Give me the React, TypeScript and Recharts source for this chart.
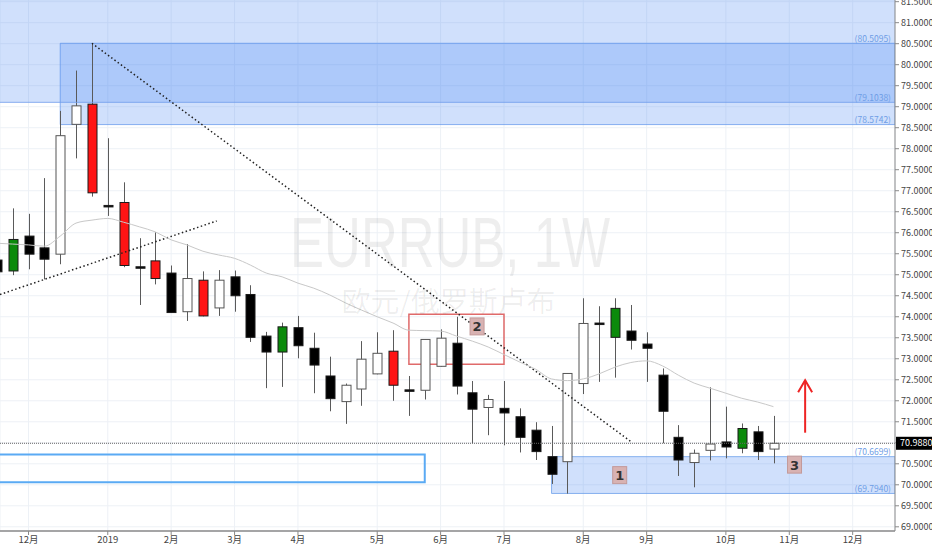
import React from "react";
import {
  ComposedChart,
  Bar,
  Line,
  XAxis,
  YAxis,
  CartesianGrid,
  ReferenceArea,
  ReferenceLine,
  ReferenceDot,
} from "recharts";

// week index, 0 = week of 3 Dec 2018
const weeks = [
  -2, -1, 0, 1, 2, 3, 4, 5, 6, 7, 8, 9, 10, 11, 12, 13, 14, 15, 16, 17, 18, 19, 20, 21, 22,
  23, 24, 25, 26, 27, 28, 29, 30, 31, 32, 33, 34, 35, 36, 37, 38, 39, 40, 41, 42, 43, 44, 45, 46, 47,
];
const opens = [
  75.35, 75.09, 75.92, 75.64, 75.49, 78.58, 79.06, 76.65, 76.72, 75.19, 75.33, 75.04, 74.12, 74.87,
  74.21, 74.95, 74.53, 73.54, 73.16, 73.74, 73.25, 72.59, 71.98, 72.28, 72.64, 73.18, 72.26, 72.25,
  72.82, 73.37, 72.19, 71.84, 71.82, 71.62, 71.3, 70.67, 70.55, 72.41, 73.85, 73.51, 73.66, 73.35,
  72.61, 71.13, 70.53, 70.82, 71.02, 70.87, 71.26, 70.85,
];
const highs = [
  75.5, 76.58, 76.45, 77.3, 78.9, 79.86, 80.51, 78.25, 77.2, 75.87, 76.01, 75.22, 75.73, 75.08,
  75.11, 75.1, 74.75, 73.64, 73.86, 74.02, 73.62, 73.05, 72.41, 73.42, 73.63, 73.68, 72.59, 73.46,
  73.7, 74.0, 72.47, 72.14, 72.47, 71.82, 71.49, 71.4, 72.65, 74.44, 74.25, 74.44, 74.28, 73.63,
  72.77, 71.42, 70.84, 72.32, 71.86, 71.46, 71.4, 71.64,
];
const lows = [
  74.95, 74.99, 75.13, 74.89, 75.25, 77.77, 76.86, 76.4, 75.18, 74.28, 74.77, 74.09, 73.9, 74.01,
  74.02, 74.12, 73.4, 72.3, 72.33, 73.01, 72.18, 71.75, 71.45, 71.88, 72.63, 72.0, 71.64, 72.03,
  72.81, 72.15, 70.99, 71.18, 70.94, 70.77, 70.59, 70.02, 69.79, 72.16, 72.45, 72.55, 73.22, 72.45,
  70.99, 70.21, 69.94, 70.58, 70.63, 70.75, 70.59, 70.51,
];
const closes = [
  75.07, 75.84, 75.49, 75.37, 78.31, 79.02, 76.95, 76.63, 75.22, 75.17, 74.91, 74.1, 74.91, 74.02,
  74.87, 74.5, 73.51, 73.16, 73.76, 73.31, 72.85, 72.05, 72.37, 72.99, 73.13, 72.37, 72.24, 73.46,
  73.49, 72.35, 71.8, 72.03, 71.71, 71.13, 70.79, 70.25, 72.65, 73.84, 73.83, 74.2, 73.44, 73.25,
  71.75, 70.59, 70.75, 70.97, 70.9, 71.34, 70.79, 70.988,
];
// 1 = candle painted green / red by the indicator
const accent = [
  0, 1, 0, 0, 0, 0, 1, 0, 1, 0, 1, 0, 0, 1, 0, 0, 0, 0, 1, 0, 0, 0, 0, 0, 0,
  1, 0, 0, 0, 0, 0, 0, 0, 0, 0, 0, 0, 0, 0, 1, 0, 0, 0, 0, 0, 0, 0, 1, 0, 0,
];
const movingAvg = [
  75.75, 75.73, 75.71, 75.68, 75.92, 76.23, 76.3, 76.34, 76.25, 76.14, 76.02, 75.83, 75.71, 75.56,
  75.47, 75.39, 75.23, 75.04, 74.95, 74.8, 74.68, 74.52, 74.33, 74.16, 74.0, 73.85, 73.68, 73.67,
  73.66, 73.54, 73.42, 73.28, 73.1, 72.92, 72.75, 72.52, 72.48, 72.52, 72.64, 72.8, 72.91, 72.95,
  72.83, 72.61, 72.42, 72.3, 72.18, 72.06, 71.97, 71.86,
];

const monthTicks = [0, 5, 9, 13, 17, 22, 26, 30, 35, 39, 44, 48, 52];
const monthLabels = ["12月", "2019", "2月", "3月", "4月", "5月", "6月", "7月", "8月", "9月", "10月", "11月", "12月"];
const priceTicks = [
  69, 69.5, 70, 70.5, 71, 71.5, 72, 72.5, 73, 73.5, 74, 74.5, 75, 75.5, 76, 76.5, 77, 77.5, 78,
  78.5, 79, 79.5, 80, 80.5, 81, 81.5,
];

const supplyTop = 80.5095;
const supplyMid = 79.1038;
const supplyLow = 78.5742;
const demandTop = 70.6699;
const demandLow = 69.794;
const lastPrice = 70.988;

const X_MIN = -1.8;
const X_MAX = 54.67;
const Y_MIN = 68.9;
const Y_MAX = 81.54;

const NARROW = "'Liberation Sans Narrow', 'Noto Sans CJK SC', sans-serif";

const candles = weeks.map((k, i) => ({
  k,
  open: opens[i],
  high: highs[i],
  low: lows[i],
  close: closes[i],
  range: [lows[i], highs[i]],
  ma: movingAvg[i],
  accent: accent[i],
}));

const Candle = (props: any) => {
  const { x, y, width, height, payload } = props;
  if (x == null || y == null || !payload) return null;
  const top = Math.min(y, y + height);
  const span = Math.abs(height);
  const { open, close, high, low } = payload;
  const toPx = (v: number) => top + ((high - v) / (high - low)) * span;
  const up = close >= open;
  const fill = payload.accent ? (up ? "#0b8a0b" : "#ff1414") : up ? "#ffffff" : "#000000";
  const cx = Math.round(x + width / 2) + 0.5;
  const bodyTop = toPx(Math.max(open, close));
  const bodyH = Math.max(toPx(Math.min(open, close)) - bodyTop, 1.5);
  return (
    <g>
      <line x1={cx} x2={cx} y1={top} y2={top + span} stroke="#5a5a5a" strokeWidth={1} />
      <rect
        x={cx - 4.5}
        y={bodyTop}
        width={9}
        height={bodyH}
        fill={fill}
        stroke={up && !payload.accent ? "#555" : "#1a1a1a"}
        strokeWidth={1}
      />
    </g>
  );
};

// the 71.0000 label sits under the last-price tag, so it is left blank
const PriceTick = (p: any) => {
  const v = Number(p.payload.value);
  if (Math.abs(v - lastPrice) < 0.2) return <g />;
  return (
    <text x={p.x} y={p.y} dy={3.2} textAnchor="start" fontSize={9} fontFamily={NARROW} fill="#444">
      {v.toFixed(4)}
    </text>
  );
};

const levelLabel = (text: string) => (p: any) => (
  <text
    x={p.cx - 4}
    y={p.cy - 1.5}
    textAnchor="end"
    fontSize={8.5}
    fontFamily={NARROW}
    fill="#6e9de6"
  >
    {text}
  </text>
);

const numberTag = (text: string) => (p: any) => (
  <g>
    <rect x={p.cx - 7} y={p.cy - 8.5} width={14} height={17} fill="#d8b2b2" stroke="#c39a9a" strokeWidth={1} />
    <text x={p.cx} y={p.cy + 5} textAnchor="middle" fontSize={13} fontWeight="bold" fontFamily="'DejaVu Sans', sans-serif" fill="#333">
      {text}
    </text>
  </g>
);

export default function App() {
  return (
    <div style={{ position: "absolute", left: 0, top: 0, width: 932, height: 550, background: "#fff", fontFamily: NARROW }}>
      <ComposedChart width={932} height={550} data={candles} margin={{ top: 0, right: 0, bottom: 0, left: 0 }}>
        <CartesianGrid stroke="#edf1f6" />
        <XAxis
          dataKey="k"
          type="number"
          domain={[X_MIN, X_MAX]}
          allowDataOverflow
          ticks={monthTicks}
          interval={0}
          tickFormatter={(v: number) => monthLabels[monthTicks.indexOf(v)] ?? ""}
          height={19}
          tickSize={4}
          tickMargin={1}
          axisLine={{ stroke: "#8a8a8a", strokeWidth: 1.5 }}
          tickLine={{ stroke: "#8a8a8a" }}
          tick={{ fill: "#444", fontSize: 9.5, fontFamily: NARROW }}
        />
        <YAxis
          orientation="right"
          type="number"
          domain={[Y_MIN, Y_MAX]}
          allowDataOverflow
          ticks={priceTicks}
          interval={0}
          width={37}
          tickSize={4}
          tickMargin={2}
          axisLine={{ stroke: "#8a8a8a" }}
          tickLine={{ stroke: "#8a8a8a" }}
          tick={PriceTick}
        />

        {/* watermark */}
        <ReferenceDot
          x={26.6}
          y={75.19}
          ifOverflow="visible"
          shape={(p: any) => (
            <text x={p.cx} y={p.cy} textAnchor="middle" fontSize={70} fontFamily="'Liberation Sans', sans-serif" fill="rgba(0,0,0,0.065)" textLength={320} lengthAdjust="spacingAndGlyphs">
              EURRUB, 1W
            </text>
          )}
        />
        <ReferenceDot
          x={26.5}
          y={74.12}
          ifOverflow="visible"
          shape={(p: any) => (
            <text x={p.cx} y={p.cy} textAnchor="middle" fontSize={28} fontFamily="'Noto Sans CJK SC', sans-serif" fill="rgba(0,0,0,0.065)" textLength={214} lengthAdjust="spacingAndGlyphs">
              欧元/俄罗斯卢布
            </text>
          )}
        />

        {/* zones */}
        <ReferenceArea x1={X_MIN} x2={X_MAX} y1={supplyMid} y2={Y_MAX} fill="rgb(66,133,244)" fillOpacity={0.25} stroke="none" ifOverflow="hidden" />
        <ReferenceArea x1={2} x2={X_MAX} y1={supplyLow} y2={supplyTop} fill="rgb(66,133,244)" fillOpacity={0.25} stroke="rgb(90,145,235)" strokeOpacity={0.7} ifOverflow="hidden" />
        <ReferenceLine y={supplyMid} stroke="rgb(110,155,235)" strokeOpacity={0.8} />
        <ReferenceArea x1={33} x2={X_MAX} y1={demandLow} y2={demandTop} fill="rgb(66,133,244)" fillOpacity={0.25} stroke="rgb(110,160,235)" strokeOpacity={0.8} ifOverflow="hidden" />
        <ReferenceArea x1={-3} x2={25} y1={70.06} y2={70.72} fill="none" stroke="#5aaaf4" strokeWidth={2} ifOverflow="hidden" />
        <ReferenceArea x1={24} x2={30} y1={72.87} y2={74.06} fill="none" stroke="#e06a6a" strokeWidth={1.5} ifOverflow="hidden" />

        {/* trend lines */}
        <ReferenceLine
          segment={[{ x: 4, y: 80.51 }, { x: 38, y: 71.03 }]}
          stroke="#222"
          strokeWidth={1.5}
          strokeDasharray="1.5 2.5"
          ifOverflow="visible"
        />
        <ReferenceLine
          segment={[{ x: X_MIN, y: 74.53 }, { x: 11.87, y: 76.28 }]}
          stroke="#222"
          strokeWidth={1.5}
          strokeDasharray="1.5 2.5"
          ifOverflow="visible"
        />
        <ReferenceLine y={lastPrice} stroke="#666" strokeDasharray="1 1" />

        <Line dataKey="ma" type="monotone" stroke="#c8c8c8" strokeWidth={1} dot={false} isAnimationActive={false} />
        <Bar dataKey="range" barSize={10} shape={Candle} isAnimationActive={false} />

        {/* annotations */}
        <ReferenceDot x={37.3} y={70.23} ifOverflow="visible" shape={numberTag("1")} />
        <ReferenceDot x={28.3} y={73.77} ifOverflow="visible" shape={numberTag("2")} />
        <ReferenceDot x={48.33} y={70.48} ifOverflow="visible" shape={numberTag("3")} />
        <ReferenceLine segment={[{ x: 49, y: 71.24 }, { x: 49, y: 72.49 }]} stroke="#ee2424" strokeWidth={2} ifOverflow="visible" />
        <ReferenceDot
          x={49}
          y={72.49}
          ifOverflow="visible"
          shape={(p: any) => (
            <path d={`M${p.cx - 7},${p.cy + 12} L${p.cx},${p.cy} L${p.cx + 7},${p.cy + 12}`} fill="none" stroke="#ee2424" strokeWidth={2} />
          )}
        />

        <ReferenceDot x={X_MAX} y={supplyTop} ifOverflow="visible" shape={levelLabel("(80.5095)")} />
        <ReferenceDot x={X_MAX} y={supplyMid} ifOverflow="visible" shape={levelLabel("(79.1038)")} />
        <ReferenceDot x={X_MAX} y={supplyLow} ifOverflow="visible" shape={levelLabel("(78.5742)")} />
        <ReferenceDot x={X_MAX} y={demandTop} ifOverflow="visible" shape={levelLabel("(70.6699)")} />
        <ReferenceDot x={X_MAX} y={demandLow} ifOverflow="visible" shape={levelLabel("(69.7940)")} />
        <ReferenceDot
          x={X_MAX}
          y={lastPrice}
          ifOverflow="visible"
          shape={(p: any) => (
            <g>
              <rect x={p.cx + 1} y={p.cy - 6.5} width={37} height={13} fill="#000" />
              <text x={p.cx + 5} y={p.cy + 3.2} fontSize={9} fontFamily={NARROW} fill="#fff">
                {lastPrice.toFixed(4)}
              </text>
            </g>
          )}
        />
      </ComposedChart>
    </div>
  );
}
